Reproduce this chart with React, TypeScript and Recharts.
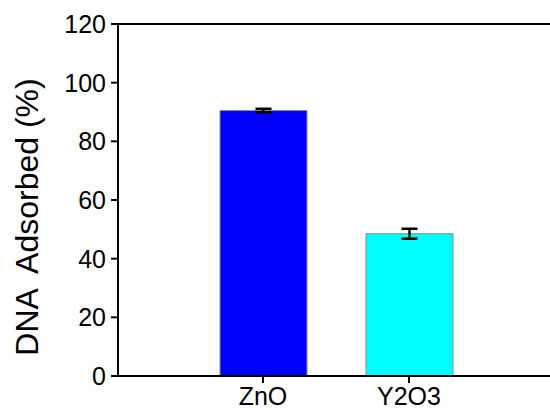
import { BarChart, Bar, XAxis, YAxis, Cell, ErrorBar, ReferenceLine } from "recharts";

// adsorption results per oxide
const materials = ["ZnO", "Y2O3"];
const adsorbed = [90.5, 48.5];
const adsorbedErr = [0.6, 1.7];
const barColors = ["#0000ff", "#00ffff"];
const yTicks = [0, 20, 40, 60, 80, 100, 120];

const data = materials.map((name, i) => ({
  name,
  value: adsorbed[i],
  err: adsorbedErr[i],
}));

const FONT = "'Liberation Sans', Arial, sans-serif";

const AxisTitle = (props: any) => {
  const { viewBox } = props;
  const cx = viewBox.x + 27;
  const cy = viewBox.y + viewBox.height / 2 + 17;
  return (
    <text
      x={cx}
      y={cy}
      transform={`rotate(-90, ${cx}, ${cy})`}
      textAnchor="middle"
      dominantBaseline="central"
      fontFamily={FONT}
      fontSize={32}
      fill="#000"
      style={{ whiteSpace: "pre" }}
    >
      {"DNA  Adsorbed (%)"}
    </text>
  );
};

export default function App() {
  return (
    <div
      style={{
        position: "fixed",
        left: 0,
        top: 0,
        background: "#fff",
        width: 550,
        height: 410,
      }}
    >
      <BarChart
        width={550}
        height={410}
        data={data}
        margin={{ top: 24, right: 0, bottom: 0, left: 0 }}
        style={{ overflow: "visible" }}
      >
        <XAxis
          dataKey="name"
          height={34}
          padding={{ left: 72, right: 68 }}
          axisLine={{ stroke: "#000", strokeWidth: 2 }}
          tickLine={{ stroke: "#000", strokeWidth: 2 }}
          tickSize={7}
          tickMargin={4}
          tick={{ fill: "#000", fontSize: 25, fontFamily: FONT }}
        />
        <YAxis
          width={118}
          domain={[0, 120]}
          ticks={yTicks}
          interval={0}
          axisLine={{ stroke: "#000", strokeWidth: 2 }}
          tickLine={{ stroke: "#000", strokeWidth: 2 }}
          tickSize={7}
          tickMargin={5}
          tick={{ fill: "#000", fontSize: 25, fontFamily: FONT }}
          label={<AxisTitle />}
        />
        <ReferenceLine y={120} stroke="#000" strokeWidth={2} />
        <Bar dataKey="value" barSize={87} stroke="#8a8a8a" strokeWidth={1} isAnimationActive={false}>
          {data.map((d, i) => (
            <Cell key={d.name} fill={barColors[i]} />
          ))}
          <ErrorBar dataKey="err" width={8} strokeWidth={2.5} stroke="#000" />
        </Bar>
      </BarChart>
    </div>
  );
}
